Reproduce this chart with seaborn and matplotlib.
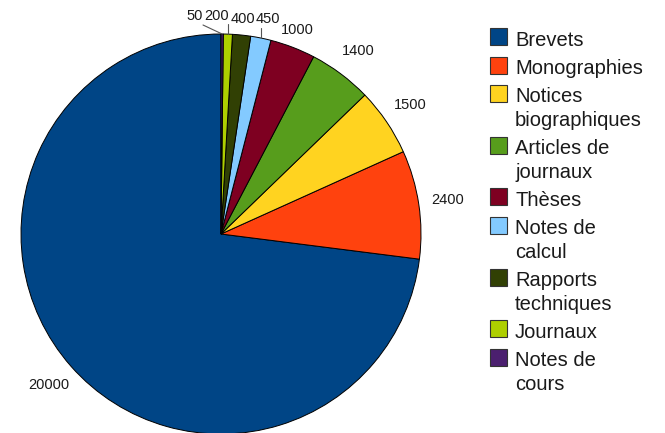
import matplotlib
matplotlib.use("Agg")
import matplotlib.pyplot as plt
import seaborn as sns
import numpy as np

categories = ["Brevets", "Monographies", "Notices\nbiographiques", "Articles de\njournaux",
              "Thèses", "Notes de\ncalcul", "Rapports\ntechniques", "Journaux", "Notes de\ncours"]
values = [20000, 2400, 1500, 1400, 1000, 450, 400, 200, 50]
colors = ["#004586", "#ff420e", "#ffd320", "#579d1c", "#7e0021", "#83caff", "#314004", "#aecf00", "#4b1f6f"]

sns.set_theme(style="white")
plt.rcParams['font.family'] = ['Liberation Sans', 'DejaVu Sans']

W, H = 665, 433
fig = plt.figure(figsize=(W / 100, H / 100), dpi=100)
ax = fig.add_axes([21/W, -1/H, 400/W, 400/H])

wedges, texts = ax.pie(values, colors=colors, startangle=90, counterclock=True,
                       labels=[str(v) for v in values], labeldistance=1.145,
                       wedgeprops=dict(edgecolor="black", linewidth=0.7),
                       textprops=dict(fontsize=10.5, color="#1a1a1a"))
ax.set_aspect("equal")
ax.set_xlim(-1, 1)
ax.set_ylim(-1, 1)

for t in texts:
    t.set_ha("center")
    t.set_va("center")

def pos_at(i, r):
    w = wedges[i]
    a = np.deg2rad((w.theta1 + w.theta2) / 2)
    return r * np.cos(a), r * np.sin(a)

# spread crowded small labels (as in reference)
label_xy = {
    4: (0.38, 1.02),
    5: (0.235, 1.075),
    6: (0.11, 1.075),
    7: (-0.02, 1.09),
    8: (-0.13, 1.09),
}
for i, (x, y) in label_xy.items():
    texts[i].set_position((x, y))

# leader lines
ex, ey = pos_at(8, 1.0)
ax.plot([-0.09, ex], [1.045, ey], color="#555555", lw=0.8, clip_on=False)
for i in (7, 5):
    ex, ey = pos_at(i, 1.0)
    ax.plot([ex, ex], [ey, ey + 0.05], color="#555555", lw=0.8, clip_on=False)

# legend (built row by row so the swatch sits on the first text line)
line_h = 23.5
row_gap = 4.8
sq = 17
y = 36.7
for cat, col in zip(categories, colors):
    lines = cat.split("\n")
    fig.patches.append(plt.Rectangle((490 / W, 1 - (y + sq / 2) / H), sq / W, sq / H,
                                     transform=fig.transFigure, facecolor=col,
                                     edgecolor="#333333", linewidth=0.8))
    for k, ln in enumerate(lines):
        fig.text(515 / W, 1 - (y + 9.0 + k * line_h) / H, ln, fontsize=14.5,
                 color="#1a1a1a", ha="left", va="baseline")
    y += len(lines) * line_h + row_gap

fig.savefig("out.png", dpi=100)
